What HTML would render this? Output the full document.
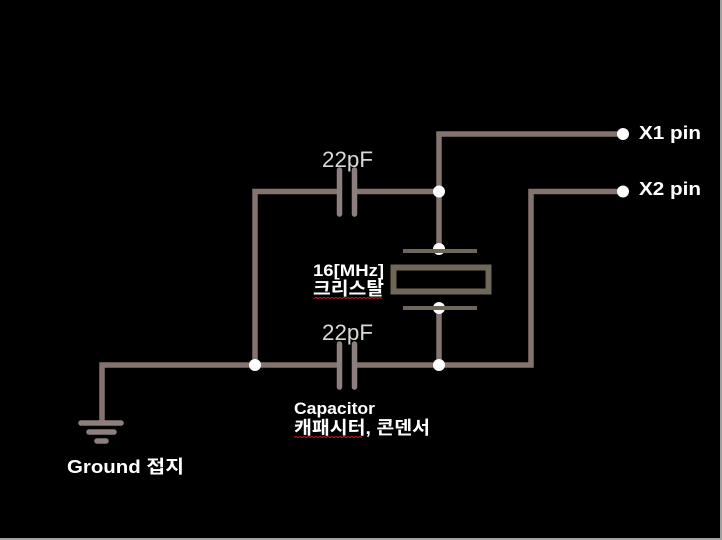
<!DOCTYPE html>
<html lang="ko">
<head>
<meta charset="utf-8">
<style>
html,body{margin:0;padding:0;background:#000;width:722px;height:540px;overflow:hidden}
svg{display:block}
text{font-family:"Liberation Sans","Noto Sans CJK KR",sans-serif;fill:#fff;font-weight:bold;font-size:18px}
.c{fill:#d9d9d9;font-size:22px;font-weight:normal}
</style>
</head>
<body>
<svg width="722" height="540" viewBox="0 0 722 540" xmlns="http://www.w3.org/2000/svg">
<rect width="722" height="540" fill="#000"/>
<g fill="none" stroke="#85736f" stroke-width="5.500">
<path d="M622 134H439V249"/>
<path d="M439 308V365"/>
<path d="M622 191.500H531V365H356"/>
<path d="M339 365H102V423"/>
<path d="M339 191.500H255V365"/>
<path d="M355 191.500H439"/>
</g>
<g fill="none" stroke="#8c7f7e" stroke-width="5.500" stroke-linecap="round">
<path d="M339.500 170V214M354.500 170V214"/>
<path d="M339.500 344V387M354.500 344V387"/>
<path d="M81 423H121M89 432H114M97 441H106"/>
</g>
<g fill="#fff">
<circle cx="439" cy="191.500" r="6"/>
<circle cx="439" cy="249" r="6"/>
<circle cx="439" cy="308" r="6"/>
<circle cx="439" cy="365" r="6"/>
<circle cx="255" cy="365" r="6"/>
<circle cx="623" cy="134" r="6"/>
<circle cx="623" cy="191.500" r="6"/>
</g>
<g fill="#6f6759">
<rect x="403" y="249" width="74" height="4"/>
<rect x="403" y="306" width="74" height="4"/>
</g>
<rect x="393.500" y="267.500" width="95" height="24" fill="#000" stroke="#6f6759" stroke-width="6"/>
<text class="c" x="322" y="167" textLength="51" lengthAdjust="spacingAndGlyphs">22pF</text>
<text class="c" x="322" y="340" textLength="51" lengthAdjust="spacingAndGlyphs">22pF</text>
<text x="639" y="139" textLength="62" lengthAdjust="spacingAndGlyphs">X1 pin</text>
<text x="639" y="195" textLength="62" lengthAdjust="spacingAndGlyphs">X2 pin</text>
<text x="313" y="276" style="font-size:17px" textLength="71" lengthAdjust="spacingAndGlyphs">16[MHz]</text>
<text x="313" y="295" style="font-size:18px" textLength="71" lengthAdjust="spacingAndGlyphs">크리스탈</text>
<text x="294" y="414" style="font-size:17px" textLength="81" lengthAdjust="spacingAndGlyphs">Capacitor</text>
<text x="294" y="434" style="font-size:18px" textLength="136" lengthAdjust="spacingAndGlyphs">캐패시터, 콘덴서</text>
<text x="67" y="473" textLength="117" lengthAdjust="spacingAndGlyphs">Ground 접지</text>
<path d="M314 298.500l2-1 2 1 2-1 2 1 2-1 2 1 2-1 2 1 2-1 2 1 2-1 2 1 2-1 2 1 2-1 2 1 2-1 2 1 2-1 2 1 2-1 2 1 2-1 2 1 2-1 2 1 2-1 2 1 2-1 2 1 2-1 2 1 2-1 2 1" fill="none" stroke="#d02020" stroke-width="1"/>
<path d="M294 437.500l2-1 2 1 2-1 2 1 2-1 2 1 2-1 2 1 2-1 2 1 2-1 2 1 2-1 2 1 2-1 2 1 2-1 2 1 2-1 2 1 2-1 2 1 2-1 2 1 2-1 2 1 2-1 2 1 2-1 2 1 2-1 2 1 2-1 2 1" fill="none" stroke="#d02020" stroke-width="1"/>
<rect x="720" y="0" width="2" height="540" fill="#a0a0a0"/>
<rect x="0" y="538" width="722" height="2" fill="#a0a0a0"/>
</svg>
</body>
</html>
